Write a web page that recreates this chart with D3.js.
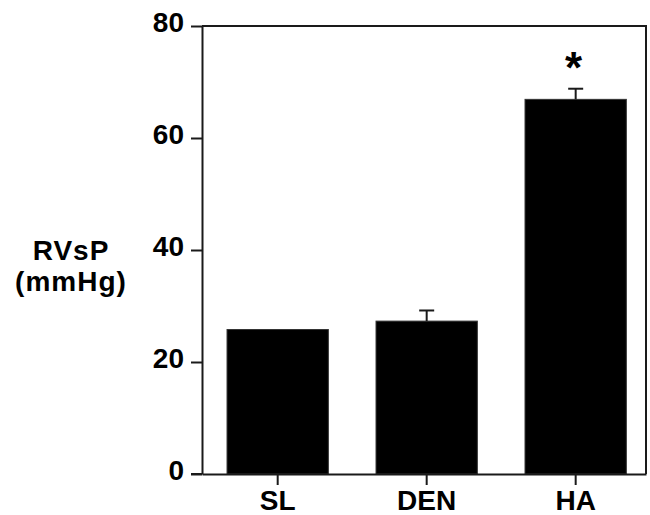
<!DOCTYPE html>
<html><head><meta charset="utf-8">
<script src="https://cdn.jsdelivr.net/npm/d3@7/dist/d3.min.js"></script>
<style>body{margin:0;background:#fff}svg{display:block}</style>
</head><body>
<script>
const categories = ["SL", "DEN", "HA"];
const means = [25.8, 27.3, 66.9];
const errors = [0, 1.9, 1.9];
const marks = ["", "", "*"];
const yTicks = [0, 20, 40, 60, 80];

const W = 650, H = 515;
const m = {left: 202, right: 4, top: 26, bottom: 41};
const svg = d3.select("body").append("svg").attr("width", W).attr("height", H);
const font = "'Liberation Sans', Arial, Helvetica, sans-serif";
const x = d3.scaleBand().domain(categories).range([m.left, W - m.right])
  .paddingInner(0.32).paddingOuter(0.15).align(0.56);
const y = d3.scaleLinear().domain([0, 80]).range([H - m.bottom, m.top]);
const col = "#1a1a1a";

// bars
svg.append("g").selectAll("rect").data(categories).join("rect")
  .attr("x", d => x(d)).attr("width", x.bandwidth())
  .attr("y", (d, i) => y(means[i])).attr("height", (d, i) => y(0) - y(means[i]))
  .attr("fill", "#000").attr("stroke", "#333").attr("stroke-width", 1);

// error bars
const eb = svg.append("g").attr("stroke", col).attr("stroke-width", 2);
categories.forEach((c, i) => {
  if (errors[i] <= 0) return;
  const cx = x(c) + x.bandwidth() / 2;
  eb.append("line").attr("x1", cx).attr("x2", cx).attr("y1", y(means[i])).attr("y2", y(means[i] + errors[i]));
  eb.append("line").attr("x1", cx - 7.5).attr("x2", cx + 7.5).attr("y1", y(means[i] + errors[i])).attr("y2", y(means[i] + errors[i]));
});

// significance marks
svg.append("g").selectAll("text").data(categories).join("text")
  .attr("x", d => x(d) + x.bandwidth() / 2 - 2)
  .attr("y", (d, i) => y(means[i] + errors[i]) - 6)
  .attr("text-anchor", "middle").attr("font-family", font).attr("font-weight", "bold")
  .attr("font-size", 44).text((d, i) => marks[i]);

// frame (top and right)
svg.append("path").attr("d", `M${m.left},${m.top}H${W - m.right}V${H - m.bottom}`)
  .attr("fill", "none").attr("stroke", col).attr("stroke-width", 2);

// y axis
const ya = svg.append("g").attr("transform", `translate(${m.left},0)`)
  .call(d3.axisLeft(y).tickValues(yTicks).tickSize(11).tickPadding(7).tickSizeOuter(0));
ya.selectAll("text").attr("dy", "0.18em");
// x axis
const xa = svg.append("g").attr("transform", `translate(0,${H - m.bottom})`)
  .call(d3.axisBottom(x).tickSize(11).tickPadding(5).tickSizeOuter(0));
[ya, xa].forEach(g => {
  g.select(".domain").attr("stroke", col).attr("stroke-width", 2);
  g.selectAll(".tick line").attr("stroke", col).attr("stroke-width", 2);
  g.selectAll("text").attr("font-family", font).attr("font-weight", "bold").attr("font-size", 28).attr("fill", "#000");
});
// extend x axis line to the left of y axis (zero tick)
svg.append("line").attr("x1", m.left - 11).attr("x2", m.left).attr("y1", y(0)).attr("y2", y(0))
  .attr("stroke", col).attr("stroke-width", 2);

// y label
const yl = svg.append("text").attr("font-family", font).attr("font-weight", "bold").attr("font-size", 28)
  .attr("text-anchor", "middle").attr("fill", "#000").attr("letter-spacing", 1);
yl.append("tspan").attr("x", 71).attr("y", 260).text("RVsP");
yl.append("tspan").attr("x", 71).attr("y", 291).text("(mmHg)");
</script>
</body></html>
